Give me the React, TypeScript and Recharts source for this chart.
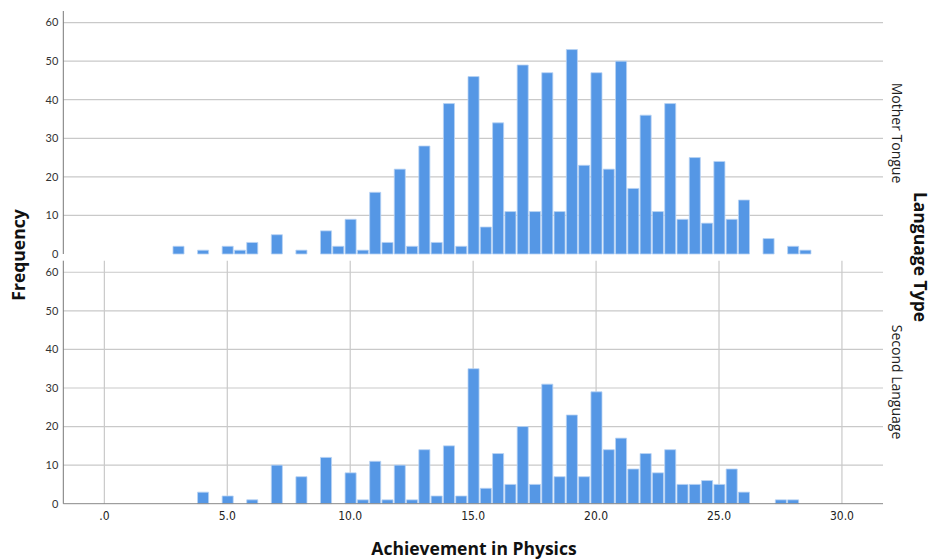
import React from 'react';
import { BarChart, Bar, XAxis, YAxis, CartesianGrid } from 'recharts';

// bin centres: 0.5-wide bins from -1.5 to 31.5
const BINS = [
  -1.5, -1, -0.5, 0, 0.5, 1, 1.5, 2, 2.5, 3, 3.5, 4, 4.5, 5, 5.5, 6, 6.5, 7, 7.5, 8, 8.5, 9, 9.5,
  10, 10.5, 11, 11.5, 12, 12.5, 13, 13.5, 14, 14.5, 15, 15.5, 16, 16.5, 17, 17.5, 18, 18.5, 19, 19.5,
  20, 20.5, 21, 21.5, 22, 22.5, 23, 23.5, 24, 24.5, 25, 25.5, 26, 26.5, 27, 27.5, 28, 28.5, 29, 29.5,
  30, 30.5, 31, 31.5,
];

const MOTHER_TONGUE = [
  0, 0, 0, 0, 0, 0, 0, 0, 0, 2, 0, 1, 0, 2, 1, 3, 0, 5, 0, 1, 0, 6, 2,
  9, 1, 16, 3, 22, 2, 28, 3, 39, 2, 46, 7, 34, 11, 49, 11, 47, 11, 53, 23,
  47, 22, 50, 17, 36, 11, 39, 9, 25, 8, 24, 9, 14, 0, 4, 0, 2, 1, 0, 0,
  0, 0, 0, 0,
];

const SECOND_LANGUAGE = [
  0, 0, 0, 0, 0, 0, 0, 0, 0, 0, 0, 3, 0, 2, 0, 1, 0, 10, 0, 7, 0, 12, 0,
  8, 1, 11, 1, 10, 1, 14, 2, 15, 2, 35, 4, 13, 5, 20, 5, 31, 7, 23, 7,
  29, 14, 17, 9, 13, 8, 14, 5, 5, 6, 5, 9, 3, 0, 0, 1, 1, 0, 0, 0,
  0, 0, 0, 0,
];

const X_TICKS = [0, 5, 10, 15, 20, 25, 30];
const Y_TICKS = [0, 10, 20, 30, 40, 50, 60];
const X_DOMAIN: [number, number] = [-1.67, 31.67];

const topData = BINS.map((x, i) => ({ x, count: MOTHER_TONGUE[i] }));
const bottomData = BINS.map((x, i) => ({ x, count: SECOND_LANGUAGE[i] }));

const LEFT = 63.3;
const RIGHT = 49;
const PLOT_W = 932 - LEFT - RIGHT;
const BAR_W = (PLOT_W / (X_DOMAIN[1] - X_DOMAIN[0])) * 0.5;

const fmtX = (v: number) => (v === 0 ? '.0' : v.toFixed(1));

const tickStyle = { fontSize: 11, fill: '#333', fontFamily: 'Lato, "DejaVu Sans", sans-serif' };

function Panel({ data, showX, height, margin }: any) {
  return (
    <BarChart
      width={932}
      height={height}
      data={data}
      margin={margin}
      barCategoryGap={0}
      barGap={0}
    >
      <CartesianGrid stroke="#c9c9c9" strokeWidth={1.2} horizontalValues={Y_TICKS.slice(1)} verticalValues={X_TICKS} />
      <XAxis
        dataKey="x"
        type="number"
        domain={X_DOMAIN}
        ticks={X_TICKS}
        tickFormatter={fmtX}
        allowDataOverflow
        height={showX ? 30 : 0}
        tick={showX ? { fontSize: 12, fill: '#222', fontFamily: '"Liberation Sans Narrow", "DejaVu Sans Condensed", sans-serif' } : false}
        stroke="#888"
        tickLine={false}
        tickSize={4}
        tickMargin={4}
      />
      <YAxis
        type="number"
        domain={[0, 63]}
        ticks={Y_TICKS}
        width={LEFT}
        stroke="#777"
        tickLine={false}
        tickSize={3}
        tickMargin={2}
        tick={tickStyle}
        interval={0}
      />
      <Bar
        dataKey="count"
        fill="#5597e5"
        stroke="#b9d3f4"
        strokeWidth={0.8}
        barSize={BAR_W}
        isAnimationActive={false}
      />
    </BarChart>
  );
}

export default function App() {
  const bold = { fontFamily: '"Open Sans", "DejaVu Sans", sans-serif', fontWeight: 700, fontSize: 17.5, color: '#111' };
  const strip = { fontFamily: '"Open Sans", "DejaVu Sans", sans-serif', fontSize: 14, color: '#222' };
  return (
    <div style={{ position: 'absolute', left: 0, top: 0, width: 932, height: 559, background: '#fff', overflow: 'hidden' }}>
      <div style={{ position: 'absolute', left: 0, top: 250 }}>
        <Panel data={bottomData} showX={true} height={309} margin={{ top: 10.7, right: RIGHT, left: 0, bottom: 25.3 }} />
      </div>
      <div style={{ position: 'absolute', left: 0, top: 0 }}>
        <Panel data={topData} showX={false} height={262} margin={{ top: 11, right: RIGHT, left: 0, bottom: 8 }} />
      </div>
      <div
        style={{
          ...bold,
          position: 'absolute',
          left: 18,
          top: 255,
          transform: 'translate(-50%, -50%) rotate(-90deg)',
          whiteSpace: 'nowrap',
        }}
      >
        Frequency
      </div>
      <div
        style={{
          ...bold,
          position: 'absolute',
          left: 474,
          top: 548,
          transform: 'translate(-50%, -50%)',
          whiteSpace: 'nowrap',
        }}
      >
        Achievement in Physics
      </div>
      <div
        style={{
          ...bold,
          position: 'absolute',
          left: 921,
          top: 257,
          transform: 'translate(-50%, -50%) rotate(90deg)',
          whiteSpace: 'nowrap',
        }}
      >
        Language Type
      </div>
      <div
        style={{
          ...strip,
          position: 'absolute',
          left: 897,
          top: 133,
          transform: 'translate(-50%, -50%) rotate(90deg)',
          whiteSpace: 'nowrap',
        }}
      >
        Mother Tongue
      </div>
      <div
        style={{
          ...strip,
          position: 'absolute',
          left: 897,
          top: 382,
          transform: 'translate(-50%, -50%) rotate(90deg)',
          whiteSpace: 'nowrap',
        }}
      >
        Second Language
      </div>
    </div>
  );
}
